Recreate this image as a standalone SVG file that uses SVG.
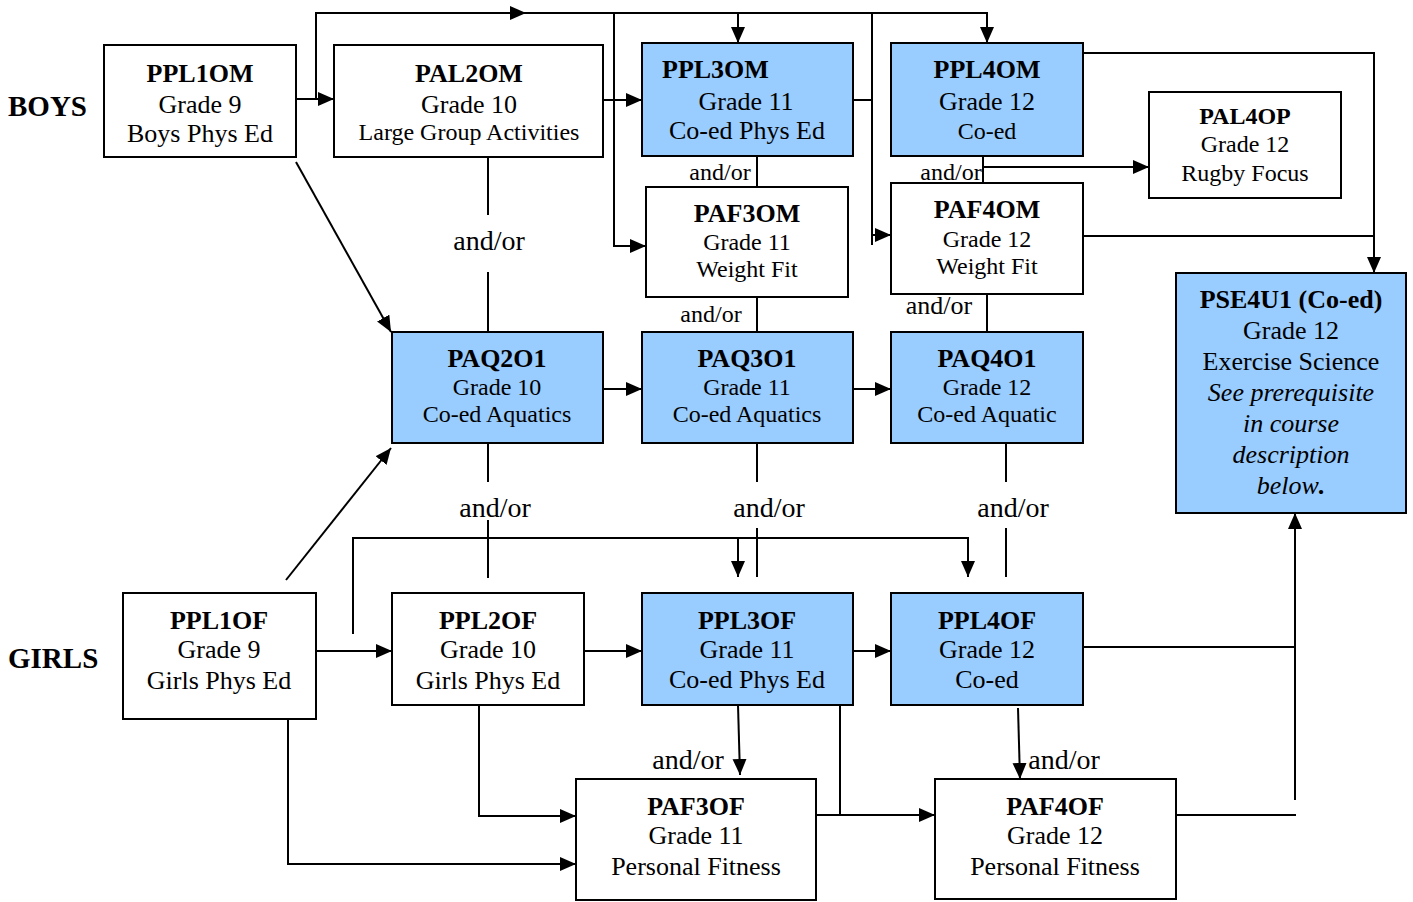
<svg xmlns="http://www.w3.org/2000/svg" width="1413" height="902" viewBox="0 0 1413 902">
<defs>
<marker id="ah" markerUnits="userSpaceOnUse" markerWidth="17" markerHeight="15" refX="16" refY="7" orient="auto">
<path d="M0,0 L16,7 L0,14 z" fill="#000"/>
</marker>
<style>
.box{stroke:#000;stroke-width:2;fill:#fff}
.blue{fill:#99CCFF}
text{font-family:"Liberation Serif","Times New Roman",serif;fill:#000;text-anchor:middle}
.t{font-weight:bold;font-size:26px}
.s26{font-size:26px}
.s24{font-size:24px}
.it{font-style:italic}
.lab{font-weight:bold;font-size:29px;text-anchor:start}
.ao{font-size:28px}
.ao24{font-size:24px}
#connectors path{fill:none;stroke:#000;stroke-width:2}
.arr{marker-end:url(#ah)}
</style>
</defs>
<rect width="1413" height="902" fill="#fff"/>
<text class="lab" x="8" y="116">BOYS</text>
<text class="lab" x="8" y="668">GIRLS</text>

<g id="connectors">
<path class="arr" d="M296,99 H334"/>
<path class="arr" d="M316,99 V13 H526"/>
<path class="arr" d="M520,13 H987 V43"/>
<path class="arr" d="M738,13 V43"/>
<path class="arr" d="M603,100 H642"/>
<path class="arr" d="M614,13 V246 H646"/>
<path d="M853,100 H872"/>
<path d="M872,13 V245"/>
<path class="arr" d="M872,235 H891"/>
<path d="M757,156 V187"/>
<path d="M983,156 V183"/>
<path class="arr" d="M983,167 H1149"/>
<path class="arr" d="M1083,53 H1374 V273"/>
<path d="M1083,236 H1374"/>
<path d="M488,157 V215"/>
<path d="M488,272 V331"/>
<path class="arr" d="M296,162 L391,332"/>
<path d="M757,297 V331"/>
<path d="M987,294 V331"/>
<path class="arr" d="M603,389 H642"/>
<path class="arr" d="M853,389 H891"/>
<path d="M488,443 V482"/>
<path d="M488,520 V578"/>
<path d="M757,443 V482"/>
<path d="M757,528 V577"/>
<path d="M1006,443 V482"/>
<path d="M1006,528 V577"/>
<path class="arr" d="M353,634 V538 H968 V577"/>
<path class="arr" d="M738,538 V577"/>
<path class="arr" d="M286,580 L391,448"/>
<path class="arr" d="M316,651 H392"/>
<path class="arr" d="M584,651 H642"/>
<path class="arr" d="M853,651 H891"/>
<path d="M1079,647 H1295"/>
<path class="arr" d="M1295,800 V513"/>
<path class="arr" d="M738,705 L740,775"/>
<path d="M840,705 V815"/>
<path class="arr" d="M816,815 H935"/>
<path class="arr" d="M1018,708 L1020,779"/>
<path d="M1176,815 H1296"/>
<path class="arr" d="M479,705 V816 H576"/>
<path class="arr" d="M288,719 V864 H576"/>
<text class="ao" x="489" y="250">and/or</text>
<text class="ao24" x="720" y="180">and/or</text>
<text class="ao24" x="951" y="180">and/or</text>
<text class="ao24" x="711" y="322">and/or</text>
<text class="s26" x="939" y="314">and/or</text>
<text class="ao" x="495" y="517">and/or</text>
<text class="ao" x="769" y="517">and/or</text>
<text class="ao" x="1013" y="517">and/or</text>
<text class="ao" x="688" y="769">and/or</text>
<text class="ao" x="1064" y="769">and/or</text>
</g>

<g id="PPL1OM">
<rect class="box" x="104" y="45" width="192" height="112"/>
<text class="t" x="200" y="82">PPL1OM</text>
<text class="s26" x="200" y="113">Grade 9</text>
<text class="s26" x="200" y="142">Boys Phys Ed</text>
</g>
<g id="PAL2OM">
<rect class="box" x="334" y="45" width="269" height="112"/>
<text class="t" x="469" y="82">PAL2OM</text>
<text class="s26" x="469" y="113">Grade 10</text>
<text class="s24" x="469" y="140">Large Group Activities</text>
</g>
<g id="PPL3OM">
<rect class="box blue" x="642" y="43" width="211" height="113"/>
<text class="t" x="662" y="78" style="text-anchor:start">PPL3OM</text>
<text class="s26" x="746" y="110">Grade 11</text>
<text class="s26" x="747" y="139">Co-ed Phys Ed</text>
</g>
<g id="PPL4OM">
<rect class="box blue" x="891" y="43" width="192" height="113"/>
<text class="t" x="987" y="78">PPL4OM</text>
<text class="s26" x="987" y="110">Grade 12</text>
<text class="s24" x="987" y="139">Co-ed</text>
</g>
<g id="PAL4OP">
<rect class="box" x="1149" y="92" width="192" height="106"/>
<text class="t" x="1245" y="124" style="font-size:24px">PAL4OP</text>
<text class="s24" x="1245" y="152">Grade 12</text>
<text class="s24" x="1245" y="181">Rugby Focus</text>
</g>
<g id="PAF3OM">
<rect class="box" x="646" y="187" width="202" height="110"/>
<text class="t" x="747" y="222">PAF3OM</text>
<text class="s24" x="747" y="250">Grade 11</text>
<text class="s24" x="747" y="277">Weight Fit</text>
</g>
<g id="PAF4OM">
<rect class="box" x="891" y="183" width="192" height="111"/>
<text class="t" x="987" y="218">PAF4OM</text>
<text class="s24" x="987" y="247">Grade 12</text>
<text class="s24" x="987" y="274">Weight Fit</text>
</g>
<g id="PSE4U1">
<rect class="box blue" x="1176" y="273" width="230" height="240"/>
<text class="t" x="1291" y="308">PSE4U1 (Co-ed)</text>
<text class="s26" x="1291" y="339">Grade 12</text>
<text class="s26" x="1291" y="370">Exercise Science</text>
<text class="s26 it" x="1291" y="401">See prerequisite</text>
<text class="s26 it" x="1291" y="432">in course</text>
<text class="s26 it" x="1291" y="463">description</text>
<text class="s26 it" x="1291" y="494">below<tspan font-weight="bold">.</tspan></text>
</g>
<g id="PAQ2O1">
<rect class="box blue" x="392" y="332" width="211" height="111"/>
<text class="t" x="497" y="367">PAQ2O1</text>
<text class="s24" x="497" y="395">Grade 10</text>
<text class="s24" x="497" y="422">Co-ed Aquatics</text>
</g>
<g id="PAQ3O1">
<rect class="box blue" x="642" y="332" width="211" height="111"/>
<text class="t" x="747" y="367">PAQ3O1</text>
<text class="s24" x="747" y="395">Grade 11</text>
<text class="s24" x="747" y="422">Co-ed Aquatics</text>
</g>
<g id="PAQ4O1">
<rect class="box blue" x="891" y="332" width="192" height="111"/>
<text class="t" x="987" y="367">PAQ4O1</text>
<text class="s24" x="987" y="395">Grade 12</text>
<text class="s24" x="987" y="422">Co-ed Aquatic</text>
</g>
<g id="PPL1OF">
<rect class="box" x="123" y="593" width="193" height="126"/>
<text class="t" x="219" y="629">PPL1OF</text>
<text class="s26" x="219" y="658">Grade 9</text>
<text class="s26" x="219" y="689">Girls Phys Ed</text>
</g>
<g id="PPL2OF">
<rect class="box" x="392" y="593" width="192" height="112"/>
<text class="t" x="488" y="629">PPL2OF</text>
<text class="s26" x="488" y="658">Grade 10</text>
<text class="s26" x="488" y="689">Girls Phys Ed</text>
</g>
<g id="PPL3OF">
<rect class="box blue" x="642" y="593" width="211" height="112"/>
<text class="t" x="747" y="629">PPL3OF</text>
<text class="s26" x="747" y="658">Grade 11</text>
<text class="s26" x="747" y="688">Co-ed Phys Ed</text>
</g>
<g id="PPL4OF">
<rect class="box blue" x="891" y="593" width="192" height="112"/>
<text class="t" x="987" y="629">PPL4OF</text>
<text class="s26" x="987" y="658">Grade 12</text>
<text class="s26" x="987" y="688">Co-ed</text>
</g>
<g id="PAF3OF">
<rect class="box" x="576" y="779" width="240" height="121"/>
<text class="t" x="696" y="815">PAF3OF</text>
<text class="s26" x="696" y="844">Grade 11</text>
<text class="s26" x="696" y="875">Personal Fitness</text>
</g>
<g id="PAF4OF">
<rect class="box" x="935" y="779" width="241" height="120"/>
<text class="t" x="1055" y="815">PAF4OF</text>
<text class="s26" x="1055" y="844">Grade 12</text>
<text class="s26" x="1055" y="875">Personal Fitness</text>
</g>
</svg>
